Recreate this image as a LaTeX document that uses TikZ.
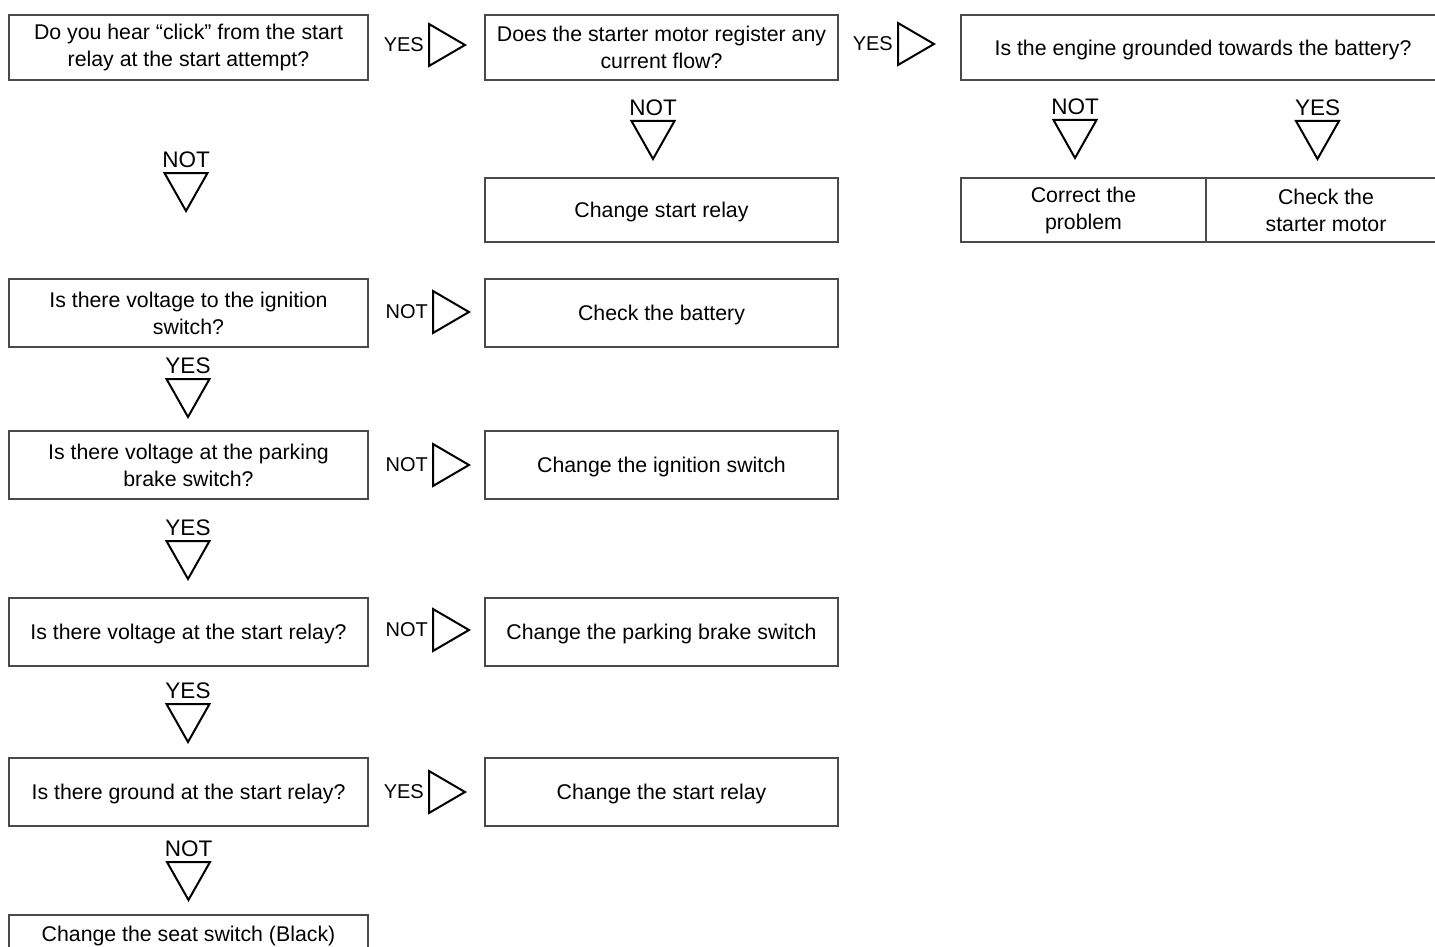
\documentclass[tikz,border=0pt]{standalone}
\usepackage{fontspec}
\setmainfont{Liberation Sans}
\usetikzlibrary{positioning}
\definecolor{Frame}{HTML}{4A4A4A}
\begin{document}
\begin{tikzpicture}[
  x=1pt,y=-1pt,
  box/.style={draw=Frame,line width=1.4pt,minimum height=68pt,inner sep=0pt,outer sep=0pt,align=center,font=\fontsize{21.3}{27}\selectfont},
  oneline/.style={text height=15.3pt,text depth=0pt},
  lbox/.style={box,minimum width=359pt},
  rbox/.style={box,minimum width=353pt},
  sidelbl/.style={anchor=east,inner sep=0pt,font=\fontsize{20}{24}\selectfont},
  downlbl/.style={anchor=south,inner sep=0pt,font=\fontsize{22.5}{27}\selectfont},
  tri/.style={draw=black,line width=2pt,line join=miter},
  rtri/.pic={\draw[tri] (0,-21) -- (36,0) -- (0,21) -- cycle;},
  dtri/.pic={\draw[tri] (-21.5,0) -- (21.5,0) -- (0,38) -- cycle;}
]
\useasboundingbox (0,0) rectangle (1435,947);
\clip (0,0) rectangle (1435,947);
\node[lbox,minimum height=65pt] (q1) at (188.5,47.5) {Do you hear “click” from the start\\relay at the start attempt?};
\node[rbox,minimum height=65pt,right=117pt of q1] (q2) {Does the starter motor register any\\current flow?};
\node[box,oneline,minimum height=65pt,minimum width=484pt,right=123pt of q2] (q3) {Is the engine grounded towards the battery?};
\node[rbox,oneline,minimum height=64pt,below=98pt of q2] (r1) {Change start relay};
\node[box,minimum height=64pt,minimum width=245pt,anchor=north west] (r2) at (q3.south west |- r1.north) {Correct the\\problem};
\node[box,minimum height=64pt,minimum width=240pt,right=0pt of r2] (r3) {Check the\\starter motor};
\node[lbox,below=199pt of q1] (q4) {Is there voltage to the ignition\\switch?};
\node[rbox,oneline,right=117pt of q4] (r4) {Check the battery};
\node[lbox,below=84pt of q4] (q5) {Is there voltage at the parking\\brake switch?};
\node[rbox,oneline,right=117pt of q5] (r5) {Change the ignition switch};
\node[lbox,oneline,below=99pt of q5] (q6) {Is there voltage at the start relay?};
\node[rbox,oneline,right=117pt of q6] (r6) {Change the parking brake switch};
\node[lbox,oneline,below=92pt of q6] (q7) {Is there ground at the start relay?};
\node[rbox,oneline,right=117pt of q7] (r7) {Change the start relay};
\node[lbox,oneline,minimum height=38pt,below=89pt of q7] (r8) {Change the seat switch (Black)};

\node[sidelbl] (yes1) at (424,45) {YES};
\path (yes1.east) ++(5,0) pic {rtri};
\node[sidelbl] (yes2) at (893,44) {YES};
\path (yes2.east) ++(5,0) pic {rtri};
\node[sidelbl] (not1) at (428,312) {NOT};
\path (not1.east) ++(5,0) pic {rtri};
\node[sidelbl] (not2) at (428,465) {NOT};
\path (not2.east) ++(5,0) pic {rtri};
\node[sidelbl] (not3) at (428,630) {NOT};
\path (not3.east) ++(5,0) pic {rtri};
\node[sidelbl] (yes3) at (424,792) {YES};
\path (yes3.east) ++(5,0) pic {rtri};

\node[downlbl] (dn1) at (186,168) {NOT};
\path (dn1.south) ++(0,5) pic {dtri};
\node[downlbl] (dn2) at (653,116) {NOT};
\path (dn2.south) ++(0,5) pic {dtri};
\node[downlbl] (dn3) at (1075,115) {NOT};
\path (dn3.south) ++(0,5) pic {dtri};
\node[downlbl] (dn4) at (1317.5,116) {YES};
\path (dn4.south) ++(0,5) pic {dtri};
\node[downlbl] (dn5) at (188,374) {YES};
\path (dn5.south) ++(0,5) pic {dtri};
\node[downlbl] (dn6) at (188,536) {YES};
\path (dn6.south) ++(0,5) pic {dtri};
\node[downlbl] (dn7) at (188,699) {YES};
\path (dn7.south) ++(0,5) pic {dtri};
\node[downlbl] (dn8) at (188.5,857) {NOT};
\path (dn8.south) ++(0,5) pic {dtri};
\end{tikzpicture}
\end{document}
